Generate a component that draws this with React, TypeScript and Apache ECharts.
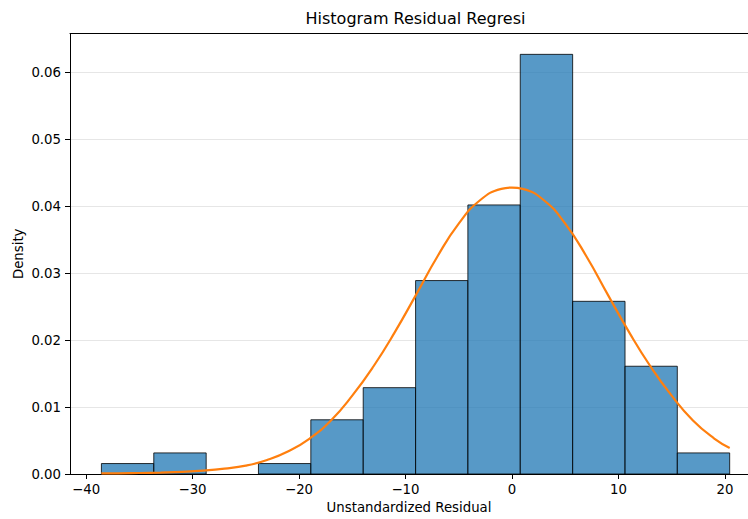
import React, { useEffect, useRef } from 'react';
import * as echarts from 'echarts';

// Histogram bin edges and densities
const binEdges = [-38.56, -33.64, -28.72, -23.81, -18.89, -13.97, -9.05, -4.14, 0.78, 5.7, 10.62, 15.53, 20.45];
const densities = [0.00156, 0.00315, 0, 0.00156, 0.0081, 0.0129, 0.0289, 0.0402, 0.0627, 0.0258, 0.0161, 0.00315];

// Normal-fit curve points
const curveX = [-38.56, -37, -35, -33, -31, -29, -27, -25, -23, -21, -19, -17, -15, -13, -11, -9, -7, -5, -3, -1, 0, 1, 3, 5, 7, 9, 11, 13, 15, 17, 19, 20.45];
const curveY = [0.0001, 0.0001, 0.00015, 0.00022, 0.00032, 0.0005, 0.0008, 0.00125, 0.0021, 0.0034, 0.0053, 0.008, 0.0117, 0.0161, 0.0212, 0.0268, 0.0325, 0.0374, 0.0409, 0.0426, 0.0428, 0.0426, 0.0409, 0.0374, 0.0325, 0.0268, 0.0212, 0.0161, 0.0117, 0.008, 0.0053, 0.0039];

const xTicks = [-40, -30, -20, -10, 0, 10, 20];
const yTicks = [0, 0.01, 0.02, 0.03, 0.04, 0.05, 0.06];

const FONT = 'DejaVu Sans';

export default function App() {
  const ref = useRef<HTMLDivElement>(null);
  useEffect(() => {
    if (!ref.current) return;
    const chart = echarts.init(ref.current, undefined, { renderer: 'svg' });
    const xMin = -41.51;
    const xMax = 22.17;
    const bins = densities.map((d, i) => [binEdges[i], binEdges[i + 1], d]);
    const curve = curveX.map((x, i) => [x, curveY[i]]);
    chart.setOption({
      animation: false,
      textStyle: { fontFamily: FONT },
      grid: { left: 70, right: 0, top: 33.6, bottom: 42.5, containLabel: false },
      graphic: [
        {
          type: 'text',
          x: 415.5,
          y: 18,
          style: {
            text: 'Histogram Residual Regresi',
            font: `16px "${FONT}"`,
            fill: '#000',
            textAlign: 'center',
            textVerticalAlign: 'middle',
          },
        },
      ],
      xAxis: [
        {
          type: 'value',
          min: xMin,
          max: xMax,
          position: 'bottom',
          name: 'Unstandardized Residual',
          nameLocation: 'middle',
          nameGap: 27,
          nameMoveOverlap: false,
          nameTextStyle: { fontSize: 13.3, color: '#000', fontFamily: FONT },
          axisLine: { show: true, onZero: false, lineStyle: { color: '#000', width: 1 } },
          axisTick: { show: true, length: 5, lineStyle: { color: '#000', width: 1 }, customValues: xTicks },
          axisLabel: {
            show: true,
            customValues: xTicks,
            margin: 9,
            fontSize: 13.3,
            color: '#000',
            fontFamily: FONT,
            formatter: (v: number) => (v < 0 ? '\u2212' + Math.abs(v) : String(v)),
          },
          splitLine: { show: false },
        },
        {
          type: 'value',
          min: xMin,
          max: xMax,
          position: 'top',
          axisLine: { show: true, onZero: false, lineStyle: { color: '#000', width: 1 } },
          axisTick: { show: false },
          axisLabel: { show: false },
          splitLine: { show: false },
        },
      ],
      yAxis: {
        type: 'value',
        min: 0,
        max: 0.0658,
        interval: 0.01,
        position: 'left',
        name: 'Density',
        nameLocation: 'middle',
        nameGap: 45,
        nameMoveOverlap: false,
        nameTextStyle: { fontSize: 13.3, color: '#000', fontFamily: FONT },
        axisLine: { show: true, onZero: false, lineStyle: { color: '#000', width: 1 } },
        axisTick: { show: true, length: 5, lineStyle: { color: '#000', width: 1 }, customValues: yTicks },
        axisLabel: {
          show: true,
          customValues: yTicks,
          margin: 9,
          fontSize: 13.3,
          color: '#000',
          fontFamily: FONT,
          formatter: (v: number) => v.toFixed(2),
        },
        splitLine: { show: true, lineStyle: { color: '#e6e6e6', width: 1 } },
      },
      series: [
        {
          type: 'custom',
          xAxisIndex: 0,
          z: 2,
          data: bins,
          encode: { x: [0, 1], y: 2 },
          renderItem: (params: any, api: any) => {
            const x0 = api.value(0);
            const x1 = api.value(1);
            const h = api.value(2);
            if (!h) return null;
            const p0 = api.coord([x0, h]);
            const p1 = api.coord([x1, 0]);
            return {
              type: 'rect',
              shape: { x: p0[0], y: p0[1], width: p1[0] - p0[0], height: p1[1] - p0[1] },
              style: { fill: 'rgba(31,119,180,0.75)', stroke: 'rgba(0,0,0,0.8)', lineWidth: 1 },
            };
          },
        },
        {
          type: 'line',
          xAxisIndex: 0,
          z: 3,
          data: curve,
          showSymbol: false,
          symbol: 'none',
          smooth: 0.5,
          lineStyle: { color: '#ff7f0e', width: 2.2 },
        },
      ],
    });
    return () => chart.dispose();
  }, []);
  return <div ref={ref} style={{ position: 'absolute', left: 0, top: 0, width: 748, height: 519 }} />;
}
